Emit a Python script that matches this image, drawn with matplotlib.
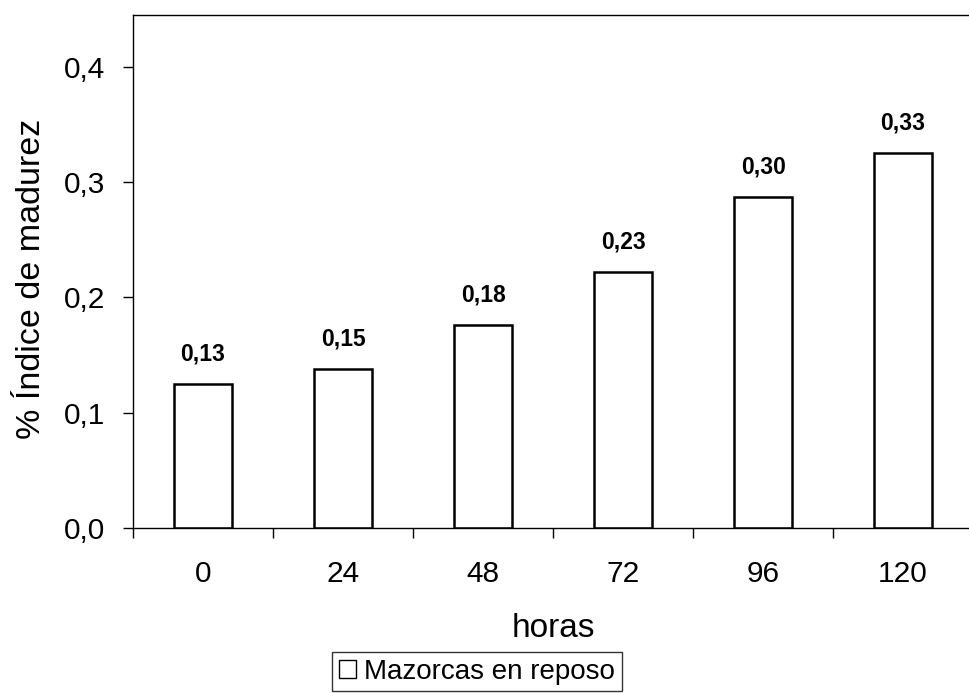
import matplotlib
matplotlib.use("Agg")
from matplotlib import pyplot as plt
from matplotlib.patches import Patch

# data
horas = ["0", "24", "48", "72", "96", "120"]
indice = [0.125, 0.138, 0.176, 0.222, 0.287, 0.325]
etiquetas = ["0,13", "0,15", "0,18", "0,23", "0,30", "0,33"]
y_ticks = [0.0, 0.1, 0.2, 0.3, 0.4]
y_tick_labels = ["0,0", "0,1", "0,2", "0,3", "0,4"]
serie = "Mazorcas en reposo"

plt.rcParams["font.family"] = ["Liberation Sans", "DejaVu Sans"]

fig = plt.figure(figsize=(9.69, 6.93), dpi=100)
ax = fig.add_axes([0.1373, 0.2381, 0.8669, 0.7403])

x = list(range(len(horas)))
bars = ax.bar(x, indice, width=0.42, color="white", edgecolor="black", linewidth=1.8)

# value labels above the bars
for b, txt in zip(bars, etiquetas):
    ax.annotate(txt, (b.get_x() + b.get_width() / 2, b.get_height()),
                xytext=(0, 13.5), textcoords="offset points",
                ha="center", va="bottom", fontsize=16.5, fontweight="bold")

ax.set_xlim(-0.5, len(horas) - 0.5)
ax.set_ylim(0, 0.445)

# ticks between categories, labels in the middle (Excel style)
ax.set_xticks([i - 0.5 for i in range(len(horas) + 1)])
ax.set_xticklabels([])
ax.set_xticks(x, minor=True)
ax.set_xticklabels(horas, minor=True, fontsize=21.5)
ax.tick_params(axis="x", which="major", direction="out", length=7, width=1)
ax.tick_params(axis="x", which="minor", length=0, pad=23)

ax.set_yticks(y_ticks)
ax.set_yticklabels(y_tick_labels, fontsize=21.5)
ax.tick_params(axis="y", direction="out", length=7, width=1, pad=13)

ax.spines["right"].set_visible(False)
for side in ["left", "bottom", "top"]:
    ax.spines[side].set_linewidth(1.0)

ax.set_xlabel("horas", fontsize=24, labelpad=18)
ax.set_ylabel("% Índice de madurez", fontsize=24.5, labelpad=12)
ax.yaxis.label.set_y(0.485)

handle = Patch(facecolor="white", edgecolor="black", linewidth=1.0)
leg = fig.legend([handle], [serie], loc="center", bbox_to_anchor=(477 / 969, 0.031),
                 fontsize=20, frameon=True, fancybox=False, edgecolor="black",
                 handlelength=0.6, handleheight=0.6, handletextpad=0.3,
                 borderpad=0.25, borderaxespad=0)
leg.get_frame().set_linewidth(1.0)

fig.savefig("out.png", dpi=100)
